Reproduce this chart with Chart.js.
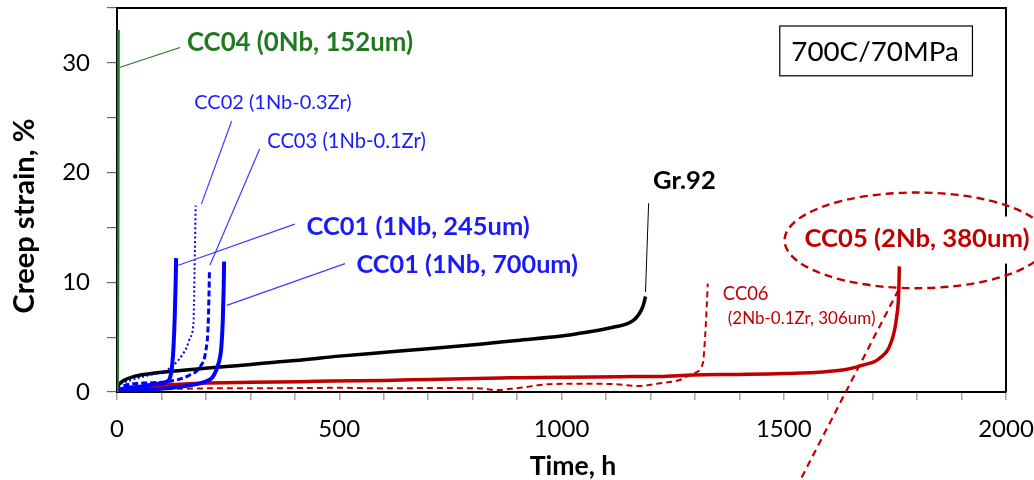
<!DOCTYPE html>
<html>
<head>
<meta charset="utf-8">
<title>Creep strain vs time, 700C/70MPa</title>
<script src="https://cdn.jsdelivr.net/npm/chart.js@4.4.1/dist/chart.umd.min.js"></script>
<style>
  html, body { margin: 0; padding: 0; background: #fff; }
  #wrap { width: 1034px; height: 480px; position: relative; }
</style>
</head>
<body>
<div id="wrap"><canvas id="creep"></canvas></div>
<script>
// Tick labels shown on the axes
const xTickLabels = [0, 500, 1000, 1500, 2000];
const yTickLabels = [0, 10, 20, 30];

// Creep curves: time (h) and creep strain (%)
const cc04Time   = [0, 1, 2, 3];
const cc04Strain = [0, 1.5, 12, 33];

const cc01aTime   = [0, 10, 52, 90, 112, 120, 124, 127, 130, 132, 133];
const cc01aStrain = [0, 0.25, 0.48, 0.75, 0.94, 1.4, 2.4, 4, 7, 10, 12.2];

const cc01bTime   = [0, 20, 112, 187, 205, 216, 226, 232, 235, 238, 240, 241];
const cc01bStrain = [0, 0.12, 0.33, 0.79, 1.05, 1.4, 2.3, 3.2, 4.2, 6.5, 9.5, 11.9];

const cc03Time   = [0, 10, 52, 112, 164, 187, 200, 205, 207, 208];
const cc03Strain = [0, 0.45, 0.8, 0.94, 1.55, 2.3, 3.8, 6, 9, 11.1];

const cc02Time   = [0, 5, 22, 74, 112, 138, 157, 165, 172, 175, 177];
const cc02Strain = [0, 0.55, 0.94, 1.55, 2.0, 2.9, 4.1, 5, 6.3, 12.3, 17];

const gr92Time   = [0, 2, 7, 15, 37, 70, 112, 180, 261, 365, 411, 500, 591, 700, 816, 900, 1000, 1041, 1116, 1161, 1176, 1184, 1189];
const gr92Strain = [0, 0.5, 0.8, 1.05, 1.4, 1.65, 1.85, 2.1, 2.36, 2.76, 2.9, 3.27, 3.58, 3.94, 4.36, 4.7, 5.1, 5.35, 5.9, 6.5, 7.2, 7.9, 8.7];

const cc05Time   = [0, 10, 37, 100, 187, 300, 411, 486, 600, 704, 861, 906, 1000, 1131, 1221, 1296, 1400, 1500, 1595, 1640, 1678, 1715, 1742, 1754, 1759, 1760];
const cc05Strain = [0, 0.2, 0.35, 0.6, 0.79, 0.88, 0.94, 1.0, 1.05, 1.15, 1.28, 1.3, 1.35, 1.4, 1.42, 1.55, 1.6, 1.68, 1.85, 2.05, 2.45, 3.06, 4.58, 6.85, 9.42, 11.45];

const cc06Time   = [0, 40, 100, 200, 366, 500, 600, 700, 816, 854, 900, 981, 1050, 1116, 1176, 1221, 1266, 1296, 1318, 1323, 1327, 1329];
const cc06Strain = [0, 0.15, 0.25, 0.33, 0.35, 0.38, 0.33, 0.36, 0.33, 0.18, 0.35, 0.73, 0.75, 0.72, 0.55, 0.79, 1.09, 1.7, 2.6, 5, 8, 9.88];

const FONT = 'Lato, "Open Sans", "DejaVu Sans", sans-serif';
const GREEN = '#1f7a1f';
const BLUE = '#0000ff';
const BLUE_TEXT = '#1a1aff';
const RED = '#c00000';

function pts(t, s) { return t.map((h, i) => ({ x: h, y: s[i] })); }

function curve(label, t, s, color, width, dash) {
  return {
    label,
    data: pts(t, s),
    showLine: true,
    borderColor: color,
    backgroundColor: color,
    borderWidth: width,
    borderDash: dash || [],
    pointRadius: 0,
    pointHoverRadius: 0,
    cubicInterpolationMode: 'monotone',
    fill: false
  };
}

// Leader lines from the labels to their curves, in (h, %) units
const leaders = [
  { from: [7, 29.6],    to: [142, 31.4],  color: GREEN, width: 1.2, dash: [] },
  { from: [258, 24.7],  to: [190, 17.15], color: '#3b3bff', width: 1.2, dash: [] },
  { from: [321, 22.15], to: [209, 11.55], color: '#3b3bff', width: 1.2, dash: [] },
  { from: [138, 11.55], to: [400, 15.3],  color: '#3b3bff', width: 1.2, dash: [] },
  { from: [247, 7.9],   to: [513, 11.7],  color: '#3b3bff', width: 1.2, dash: [] },
  { from: [1189, 9.1],  to: [1196, 17.2], color: '#000', width: 1, dash: [] },
  { from: [1758, 9.3],  to: [1535, -8.2], color: RED, width: 2.2, dash: [7, 5] }
];

// Curve labels: left edge (h), vertical centre (%), rendered width (px)
const notes = [
  { text: 'CC04 (0Nb, 152um)',  h: 157.4, v: 31.82, w: 226,   weight: 'bold',   color: GREEN },
  { text: 'CC02 (1Nb-0.3Zr)',   h: 173.8, v: 26.36, w: 157.4, weight: 'normal', color: BLUE_TEXT },
  { text: 'CC03 (1Nb-0.1Zr)',   h: 337.9, v: 22.82, w: 158.7, weight: 'normal', color: BLUE_TEXT },
  { text: 'CC01 (1Nb, 245um)',  h: 426.5, v: 15.03, w: 223.3, weight: 'bold',   color: BLUE_TEXT },
  { text: 'CC01 (1Nb, 700um)',  h: 538.9, v: 11.55, w: 221.6, weight: 'bold',   color: BLUE_TEXT },
  { text: 'Gr.92',              h: 1206,  v: 19.27, w: 62.7,  weight: 'bold',   color: '#000' },
  { text: 'CC06',               h: 1363,  v: 8.97,  w: 45.7,  weight: 'normal', color: RED },
  { text: '(2Nb-0.1Zr, 306um)', h: 1374,  v: 6.7,   w: 147.7, weight: 'normal', color: RED }
];

function fitSize(ctx, text, weight, width) {
  ctx.font = weight + ' 100px ' + FONT;
  return 100 * width / ctx.measureText(text).width;
}

function drawText(ctx, text, x, y, width, weight, color, align) {
  const size = fitSize(ctx, text, weight, width);
  ctx.font = weight + ' ' + size.toFixed(2) + 'px ' + FONT;
  ctx.fillStyle = color;
  ctx.textAlign = align || 'left';
  ctx.textBaseline = 'middle';
  ctx.fillText(text, x, y);
}

const annotations = {
  id: 'annotations',
  beforeDatasetsDraw(chart) {
    const { ctx, chartArea: a } = chart;
    ctx.save();
    ctx.strokeStyle = '#000';
    ctx.lineWidth = 2;
    ctx.beginPath();
    ctx.moveTo(a.left, a.top);
    ctx.lineTo(a.right, a.top);
    ctx.lineTo(a.right, a.bottom);
    ctx.stroke();
    ctx.restore();
  },
  afterDraw(chart) {
    const { ctx, scales: { x, y } } = chart;
    const px = h => x.getPixelForValue(h);
    const py = v => y.getPixelForValue(v);
    ctx.save();

    leaders.forEach(l => {
      ctx.strokeStyle = l.color;
      ctx.lineWidth = l.width;
      ctx.setLineDash(l.dash);
      ctx.beginPath();
      ctx.moveTo(px(l.from[0]), py(l.from[1]));
      ctx.lineTo(px(l.to[0]), py(l.to[1]));
      ctx.stroke();
    });
    ctx.setLineDash([]);

    notes.forEach(n => drawText(ctx, n.text, px(n.h), py(n.v), n.w, n.weight, n.color));

    // CC05 label with its dashed ellipse
    const cx = px(1798.6), cy = py(13.82);
    const rx = px(1798.6 + 296.8) - cx, ry = cy - py(13.82 + 4.36);
    ctx.fillStyle = '#fff';
    ctx.fillRect(px(1530), py(16.0), px(2037) - px(1530), py(11.7) - py(16.0));
    ctx.strokeStyle = RED;
    ctx.lineWidth = 2.4;
    ctx.setLineDash([8, 5]);
    ctx.beginPath();
    ctx.ellipse(cx, cy, rx, ry, 0, 0, Math.PI * 2);
    ctx.stroke();
    ctx.setLineDash([]);
    drawText(ctx, 'CC05 (2Nb, 380um)', px(1546.8), py(13.97), 225, 'bold', RED);

    // Test condition box
    const bx0 = px(1491), bx1 = px(1924.5), by0 = py(33.36), by1 = py(28.82);
    ctx.fillStyle = '#fff';
    ctx.fillRect(bx0, by0, bx1 - bx0, by1 - by0);
    ctx.strokeStyle = '#000';
    ctx.lineWidth = 1.2;
    ctx.strokeRect(bx0, by0, bx1 - bx0, by1 - by0);
    drawText(ctx, '700C/70MPa', px(1516.9), py(31.03), 167.6, 'normal', '#000');

    // Axis titles
    drawText(ctx, 'Time, h', 573, 466.7, 86.7, 'bold', '#000', 'center');
    ctx.save();
    ctx.translate(25, 216);
    ctx.rotate(-Math.PI / 2);
    drawText(ctx, 'Creep strain, %', 0, 0, 195, 'bold', '#000', 'center');
    ctx.restore();

    ctx.restore();
  }
};

new Chart(document.getElementById('creep'), {
  type: 'scatter',
  data: {
    datasets: [
      curve('CC04 (0Nb, 152um)', cc04Time, cc04Strain, GREEN, 3),
      curve('CC01 (1Nb, 245um)', cc01aTime, cc01aStrain, BLUE, 4),
      curve('CC01 (1Nb, 700um)', cc01bTime, cc01bStrain, BLUE, 4),
      curve('CC03 (1Nb-0.1Zr)', cc03Time, cc03Strain, BLUE, 3, [6, 3]),
      curve('CC02 (1Nb-0.3Zr)', cc02Time, cc02Strain, BLUE, 2, [2, 2.5]),
      curve('Gr.92', gr92Time, gr92Strain, '#000', 3.5),
      curve('CC05 (2Nb, 380um)', cc05Time, cc05Strain, RED, 3.5),
      curve('CC06 (2Nb-0.1Zr, 306um)', cc06Time, cc06Strain, RED, 2, [6, 4])
    ]
  },
  options: {
    responsive: true,
    maintainAspectRatio: false,
    animation: false,
    devicePixelRatio: 1,
    layout: { padding: { top: 8, right: 28, left: 0, bottom: 0 } },
    plugins: { legend: { display: false }, tooltip: { enabled: false } },
    scales: {
      x: {
        type: 'linear',
        min: 0,
        max: 2000,
        afterFit(s) { s.height = 88; s.paddingLeft = 0; s.paddingRight = 0; },
        ticks: {
          stepSize: 100,
          autoSkip: false,
          maxRotation: 0,
          padding: 15,
          color: '#000',
          font: { family: FONT, size: 24 },
          callback: v => xTickLabels.includes(v) ? String(v) : ''
        },
        grid: { drawOnChartArea: false, tickLength: 8, tickColor: '#a6a6a6', lineWidth: 1.5 },
        border: { color: '#000', width: 2 }
      },
      y: {
        type: 'linear',
        min: 0,
        max: 35,
        afterFit(s) { s.width = 117; s.paddingTop = 0; s.paddingBottom = 0; },
        ticks: {
          stepSize: 5,
          autoSkip: false,
          padding: 17,
          color: '#000',
          font: { family: FONT, size: 24 },
          callback: v => yTickLabels.includes(v) ? String(v) : ''
        },
        grid: { drawOnChartArea: false, tickLength: 10, tickColor: '#666', lineWidth: 1.2 },
        border: { color: '#000', width: 2 }
      }
    }
  },
  plugins: [annotations]
});
</script>
</body>
</html>
